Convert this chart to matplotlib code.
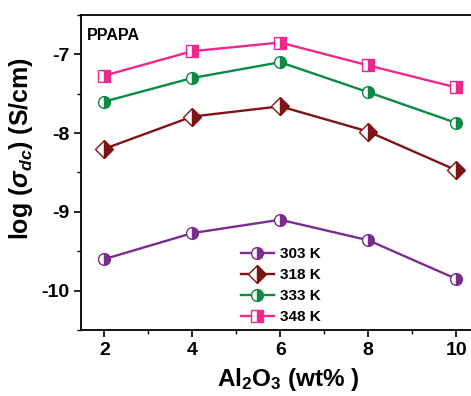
import matplotlib
matplotlib.use("Agg")
from matplotlib import pyplot as plt
from matplotlib.ticker import MultipleLocator

plt.rcParams['font.family'] = ['Liberation Sans', 'DejaVu Sans']
plt.rcParams['font.weight'] = 'bold'
plt.rcParams['axes.unicode_minus'] = False
plt.rcParams['mathtext.fontset'] = 'custom'
plt.rcParams['mathtext.rm'] = 'Liberation Sans:bold'
plt.rcParams['mathtext.it'] = 'Liberation Sans:italic:bold'
plt.rcParams['mathtext.bf'] = 'Liberation Sans:bold'

al2o3 = [2, 4, 6, 8, 10]
s303 = [-9.60, -9.27, -9.10, -9.36, -9.85]
s318 = [-8.20, -7.79, -7.66, -7.98, -8.47]
s333 = [-7.60, -7.30, -7.10, -7.48, -7.87]
s348 = [-7.27, -6.96, -6.85, -7.14, -7.42]

labels = ['303 K', '318 K', '333 K', '348 K']
colors = ['#7b2d8e', '#7f1418', '#0b8a42', '#f0288c']
markers = ['o', 'D', 'o', 's']
sizes = [8.5, 9.5, 8.5, 8]

fig = plt.figure(figsize=(4.71, 3.96), dpi=100)
ax = fig.add_axes([0.172, 0.1667, 0.843, 0.7955])

for ys, lab, c, m, ms in zip([s303, s318, s333, s348], labels, colors, markers, sizes):
    ax.plot(al2o3, ys, color=c, lw=1.7, marker=m, markersize=ms, fillstyle='right',
            markerfacecolor=c, markerfacecoloralt='white', markeredgecolor=c,
            markeredgewidth=1.0, label=lab)

ax.set_xlim(1.47, 10.5)
ax.set_ylim(-10.5, -6.5)
ax.xaxis.set_major_locator(MultipleLocator(2))
ax.xaxis.set_minor_locator(MultipleLocator(1))
ax.yaxis.set_major_locator(MultipleLocator(1))
ax.yaxis.set_minor_locator(MultipleLocator(0.5))
ax.tick_params(which='major', direction='out', length=5, width=1.2, labelsize=14)
ax.tick_params(which='minor', direction='out', length=3, width=1.0)
for lab in ax.get_xticklabels() + ax.get_yticklabels():
    lab.set_fontweight('bold')
for sp in ax.spines.values():
    sp.set_linewidth(1.3)

ax.set_xlabel(r'Al$_2$O$_3$ (wt% )', fontsize=17.5, fontweight='bold')
ax.set_ylabel(r'log ($\sigma_{dc}$) (S/cm)', fontsize=18, fontweight='bold')
ax.xaxis.set_label_coords(0.522, -0.115)
ax.yaxis.set_label_coords(-0.115, 0.575)

ax.text(0.015, 0.96, 'PPAPA', transform=ax.transAxes, fontsize=11.5, fontweight='bold',
        ha='left', va='top')

leg = ax.legend(loc='lower left', bbox_to_anchor=(0.375, -0.015), frameon=False,
                fontsize=11, handlelength=2.2, labelspacing=0.45, borderpad=0.2,
                handletextpad=0.4)
for t in leg.get_texts():
    t.set_fontweight('bold')

fig.savefig('out.png', dpi=100)
